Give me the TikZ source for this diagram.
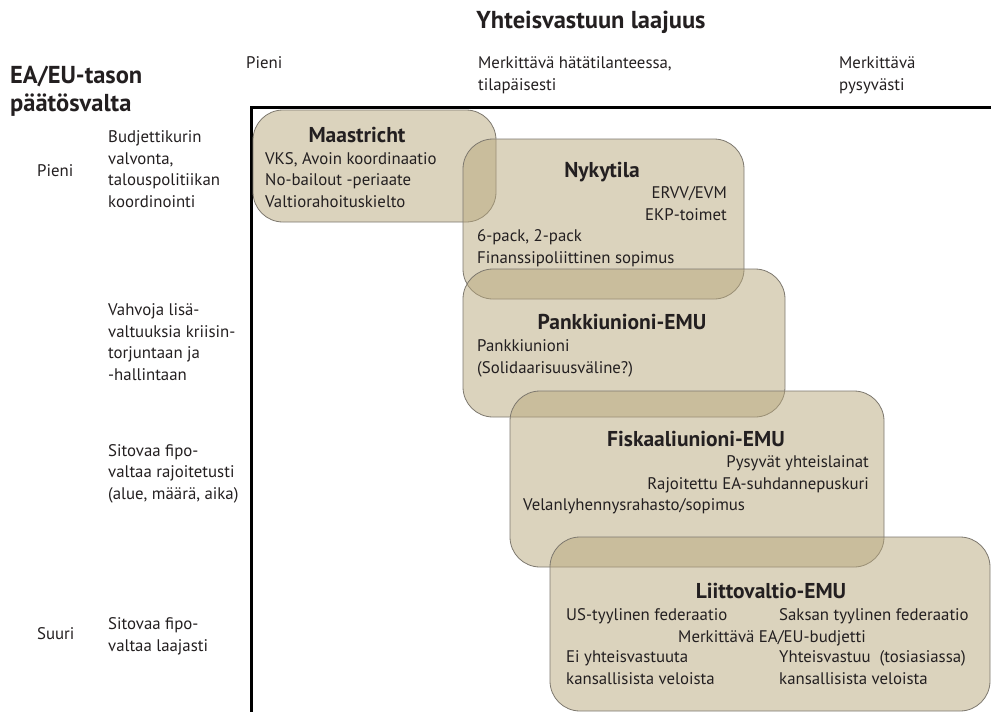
\documentclass[tikz,border=0pt]{standalone}
\usepackage{fontspec}
\setmainfont{PT Sans}
\definecolor{zonefill}{RGB}{183,167,124}
\definecolor{zoneline}{RGB}{125,120,110}
\definecolor{ink}{RGB}{35,31,32}
\begin{document}
\begin{tikzpicture}[
    x=1pt, y=-1pt,
    txt/.style={font=\fontsize{16.8}{21.5}\selectfont, text=ink, inner sep=0pt, align=left, anchor=base west},
    rtxt/.style={txt, align=right, anchor=base east},
    head/.style={font=\fontsize{21.5}{24}\bfseries\selectfont, text=ink, inner sep=0pt, anchor=base},
    big/.style={font=\fontsize{24.5}{28}\bfseries\selectfont, text=ink, inner sep=0pt, align=left, anchor=base west},
    zone/.style={draw=zoneline, line width=0.8pt, fill=zonefill, fill opacity=0.5, rounded corners=30pt}
]
\useasboundingbox (0,0) rectangle (991,712);

% axis titles
\node[big, anchor=base] (xtitle) at (591,28) {Yhteisvastuun laajuus};
\node[big] (ytitle) at (10,111) {EA/EU-tason\\päätösvalta};

% horizontal scale
\node[txt] (x1) at (246,68) {Pieni};
\node[txt] (x2) at (478,90) {Merkittävä hätätilanteessa,\\tilapäisesti};
\node[txt] (x3) at (839,90) {Merkittävä\\pysyvästi};

% vertical scale
\node[txt] (y1) at (37,176) {Pieni};
\node[txt] (y1a) at (108,207) {Budjettikurin\\valvonta,\\talouspolitiikan\\koordinointi};
\node[txt] (y2a) at (108,380) {Vahvoja lisä-\\valtuuksia kriisin-\\torjuntaan ja\\-hallintaan};
\node[txt] (y3a) at (108,499) {Sitovaa fipo-\\valtaa rajoitetusti\\(alue, määrä, aika)};
\node[txt] (y4) at (37,639) {Suuri};
\node[txt] (y4a) at (108,651) {Sitovaa fipo-\\valtaa laajasti};

% axes
\draw[line width=3pt, line join=miter] (991,107) -- (251.5,107) -- (251.5,712);

% zones
\draw[zone] (253,110) rectangle (496,222);
\draw[zone] (463,139) rectangle (744,299);
\draw[zone] (463,269) rectangle (785,417);
\draw[zone] (510,391) rectangle (884,567);
\draw[zone] (550,537) rectangle (990,711);

% Maastricht
\node[head] (maas) at (357,142) {Maastricht};
\node[txt] (maasL) at (265,207) {VKS, Avoin koordinaatio\\No-bailout -periaate\\Valtiorahoituskielto};

% Nykytila
\node[head] (nyky) at (602,177) {Nykytila};
\node[rtxt] (nykyR) at (727,220) {ERVV/EVM\\EKP-toimet};
\node[txt] (nykyL) at (477,263) {6-pack, 2-pack\\Finanssipoliittinen sopimus};

% Pankkiunioni-EMU
\node[head] (pank) at (622,329) {Pankkiunioni-EMU};
\node[txt] (pankL) at (477,373) {Pankkiunioni\\(Solidaarisuusväline?)};

% Fiskaaliunioni-EMU
\node[head] (fisk) at (696,446) {Fiskaaliunioni-EMU};
\node[rtxt] (fiskR) at (869,489) {Pysyvät yhteislainat\\Rajoitettu EA-suhdannepuskuri};
\node[txt] (fiskL) at (523,510) {Velanlyhennysrahasto/sopimus};

% Liittovaltio-EMU
\node[head] (liit) at (771,598) {Liittovaltio-EMU};
\node[txt] (liitUS) at (566,620) {US-tyylinen federaatio};
\node[txt] (liitDE) at (779,620) {Saksan tyylinen federaatio};
\node[txt, anchor=base] (liitB) at (772,642) {Merkittävä EA/EU-budjetti};
\node[txt] (liitL) at (566,684) {Ei yhteisvastuuta\\kansallisista veloista};
\node[txt] (liitR) at (779,684) {Yhteisvastuu~~(tosiasiassa)\\kansallisista veloista};
\end{tikzpicture}
\end{document}
